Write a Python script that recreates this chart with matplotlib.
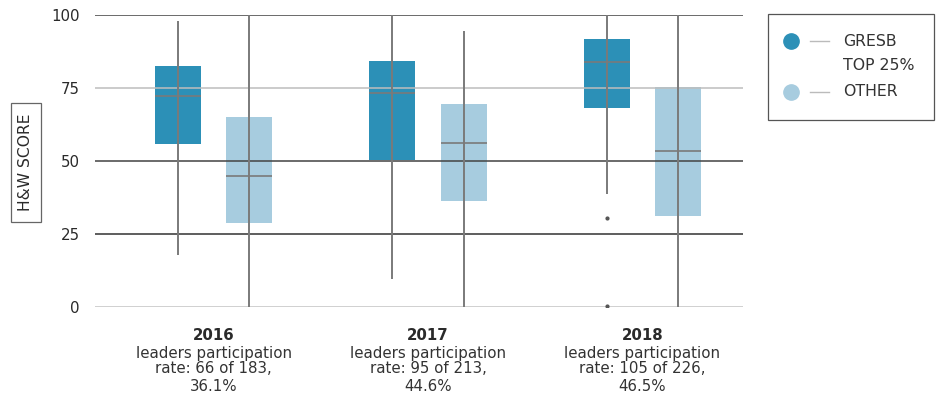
import matplotlib
matplotlib.use("Agg")
import matplotlib.pyplot as plt
from matplotlib.patches import Rectangle
from matplotlib.lines import Line2D

plt.rcParams['font.family'] = ['DejaVu Sans']

years = ["2016", "2017", "2018"]
subtitles = [
    ["leaders participation", "rate: 66 of 183,", "36.1%"],
    ["leaders participation", "rate: 95 of 213,", "44.6%"],
    ["leaders participation", "rate: 105 of 226,", "46.5%"],
]
series = ["GRESB\nTOP 25%", "OTHER"]

# Box statistics per year: (whisker low, q1, median, q3, whisker high)
top25_stats = [
    (17.8, 55.8, 72.3, 82.5, 98.0),
    (9.6, 50.4, 73.3, 84.3, 100.0),
    (38.7, 68.2, 83.9, 91.8, 100.0),
]
other_stats = [
    (0.0, 28.8, 45.0, 65.0, 100.0),
    (0.0, 36.2, 56.1, 69.5, 94.5),
    (0.0, 31.1, 53.4, 75.3, 100.0),
]
top25_outliers = [[], [], [30.4, 0.3]]
other_outliers = [[], [], []]

dark = "#2C90B7"
light = "#A7CCDF"
colors = [dark, light]
text_c = "#2a2a2a"

fig = plt.figure(figsize=(9.39, 3.96), dpi=100)
ax = fig.add_axes([0.1012, 0.2247, 0.690, 0.7374])

offset = 0.166
width = 0.215

for i in range(len(years)):
    for k, (stats, outl) in enumerate([(top25_stats, top25_outliers),
                                       (other_stats, other_outliers)]):
        lo, q1, med, q3, hi = stats[i]
        x = i + (-offset if k == 0 else offset)
        ax.add_patch(Rectangle((x - width / 2, q1), width, q3 - q1,
                               facecolor=colors[k], edgecolor="none", zorder=2))
        ax.plot([x - width / 2, x + width / 2], [med, med], color="#7a7a7a",
                lw=1.2, zorder=4, solid_capstyle="butt")
        ax.plot([x, x], [lo, hi], color="#7a7a7a", lw=1.4, zorder=4,
                solid_capstyle="butt")
        for v in outl[i]:
            ax.plot([x], [v], marker="o", ms=2, color="#555555", zorder=4)

# horizontal reference lines
grid_levels = [0, 25, 50, 75, 100]
grid_colors = ["#c4c4c4", "#333333", "#444444", "#bdbdbd", "#444444"]
for lvl, c in zip(grid_levels, grid_colors):
    ax.axhline(lvl, color=c, lw=1.3, zorder=3, alpha=0.85)

ax.set_xlim(-0.554, 2.47)
ax.set_ylim(0, 100)
for s in ax.spines.values():
    s.set_visible(False)
ax.set_yticks(grid_levels)
ax.set_yticklabels([str(v) for v in grid_levels], fontsize=10.8,
                   color=text_c)
ax.tick_params(axis="y", length=0, pad=11)
ax.set_xticks(range(len(years)))
ax.set_xticklabels([])
ax.tick_params(axis="x", length=0)

line_y = [-9.6, -15.8, -21.2, -27.1]
for i, (yr, sub) in enumerate(zip(years, subtitles)):
    ax.text(i, line_y[0], yr, ha="center", va="center", fontsize=10.8,
            fontweight="bold", color=text_c, clip_on=False)
    for txt, yy in zip(sub, line_y[1:]):
        ax.text(i, yy, txt, ha="center", va="center", fontsize=10.8,
                color="#333333", clip_on=False)

# y-axis title in a box
fig.patches.append(Rectangle((11 / 939, 1 - 222 / 396), 30 / 939, 119 / 396,
                             transform=fig.transFigure, facecolor="white",
                             edgecolor="#666666", lw=0.9))
fig.text(26 / 939, 1 - 162 / 396, "H&W SCORE", rotation=90, ha="center",
         va="center", fontsize=11.2, color=text_c)

# legend box
fig.patches.append(Rectangle((768 / 939, 1 - 120 / 396), 166 / 939, 106 / 396,
                             transform=fig.transFigure, facecolor="white",
                             edgecolor="#555555", lw=0.9))
leg_y = [1 - 41 / 396, 1 - 92 / 396]
for c, yy in zip(colors, leg_y):
    fig.lines.append(Line2D([791 / 939], [yy], marker="o", ms=11, color=c,
                            transform=fig.transFigure, linestyle="none"))
    fig.lines.append(Line2D([810 / 939, 829 / 939], [yy, yy], color="#bbbbbb",
                            lw=1.0, transform=fig.transFigure))
fig.text(843 / 939, 1 - 41 / 396, "GRESB", ha="left", va="center",
         fontsize=11.3, color="#333333")
fig.text(843 / 939, 1 - 66 / 396, "TOP 25%", ha="left", va="center",
         fontsize=11.3, color="#333333")
fig.text(843 / 939, 1 - 92 / 396, "OTHER", ha="left", va="center",
         fontsize=11.3, color="#333333")

fig.savefig("out.png", dpi=100, facecolor="white")
